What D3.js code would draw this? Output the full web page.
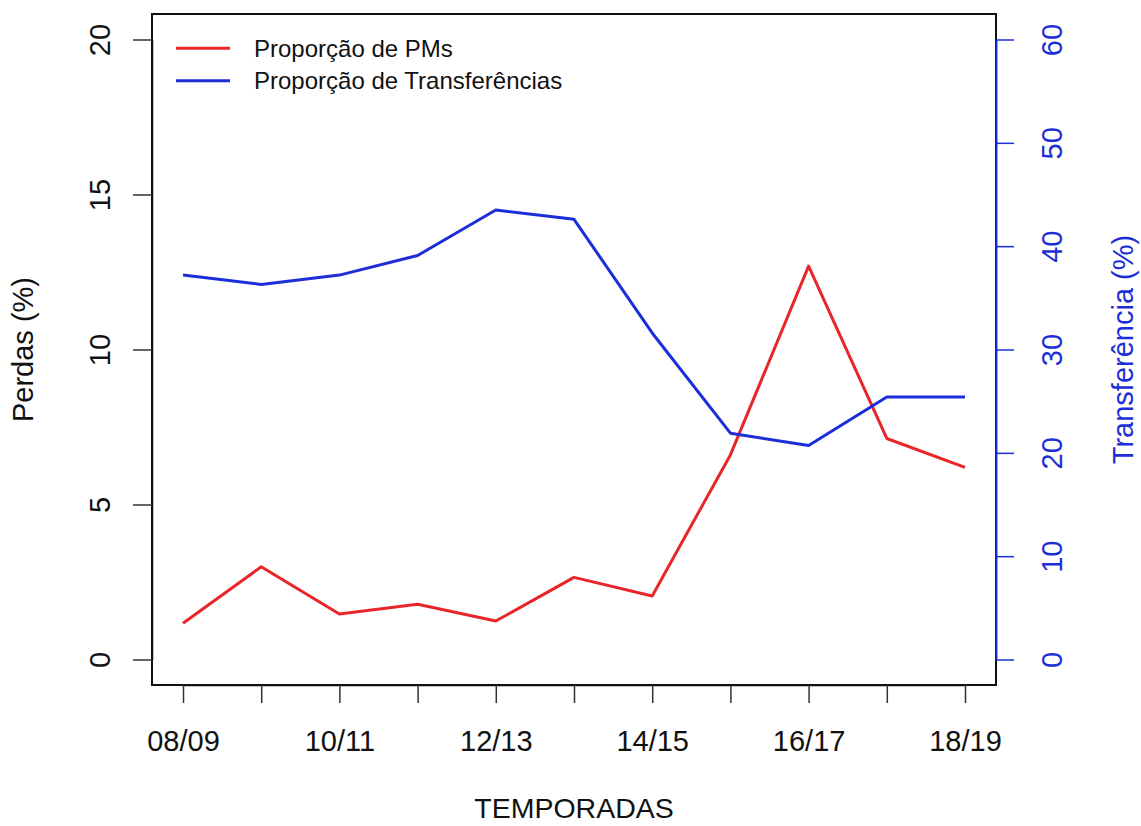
<!DOCTYPE html>
<html>
<head>
<meta charset="utf-8">
<script src="https://cdn.jsdelivr.net/npm/d3@7"></script>
<style>
  html, body { margin: 0; padding: 0; background: #ffffff; }
  svg text { font-family: "Liberation Sans", Arial, Helvetica, sans-serif; }
</style>
</head>
<body>
<svg id="chart" width="1141" height="826"></svg>
<script>
// ---- data ----
const seasons = ["08/09","09/10","10/11","11/12","12/13","13/14","14/15","15/16","16/17","17/18","18/19"];
const pmShare = [1.17, 2.99, 1.47, 1.78, 1.24, 2.65, 2.05, 6.6, 12.69, 7.13, 6.2];
const transferShare = [37.2, 36.3, 37.2, 39.1, 43.5, 42.6, 31.6, 21.9, 20.7, 25.4, 25.4];
const leftTicks = [0, 5, 10, 15, 20];
const rightTicks = [0, 10, 20, 30, 40, 50, 60];
const legendLabels = ["Proporção de PMs", "Proporção de Transferências"];

// ---- layout ----
const W = 1141, H = 826;
const box = { left: 152, right: 996, top: 14, bottom: 685 };
const RED = "#e8262a", BLUE = "#1c2ed8", INK = "#111111";

const svg = d3.select("#chart");

const x = d3.scalePoint().domain(seasons).range([183, 965]);
const yL = d3.scaleLinear().domain([0, 20]).range([659.5, 39.5]);
const yR = d3.scaleLinear().domain([0, 60]).range([659.5, 39.5]);

// plot box
svg.append("rect")
  .attr("x", box.left).attr("y", box.top)
  .attr("width", box.right - box.left).attr("height", box.bottom - box.top)
  .attr("fill", "none").attr("stroke", INK).attr("stroke-width", 2);

// x axis
const gx = svg.append("g").attr("transform", `translate(0,${box.bottom})`)
  .call(d3.axisBottom(x).tickSize(18).tickSizeOuter(0)
    .tickFormat((d, i) => i % 2 === 0 ? d : ""));
gx.select(".domain").attr("stroke", INK).attr("stroke-width", 1.5);
gx.selectAll(".tick line").attr("stroke", "#333").attr("stroke-width", 1.5);
gx.selectAll(".tick text")
  .attr("y", 66).attr("dy", 0)
  .attr("font-size", 29).attr("fill", INK);

// left axis
const gl = svg.append("g").attr("transform", `translate(${box.left},0)`)
  .call(d3.axisLeft(yL).tickValues(leftTicks).tickSize(19).tickSizeOuter(0));
gl.select(".domain").attr("stroke", INK).attr("stroke-width", 1.5);
gl.selectAll(".tick line").attr("stroke", "#333").attr("stroke-width", 1.5);
gl.selectAll(".tick text")
  .attr("transform", "rotate(-90)")
  .attr("x", 0).attr("y", -42).attr("dy", 0)
  .attr("text-anchor", "middle")
  .attr("font-size", 29).attr("fill", INK);

// right axis
const gr = svg.append("g").attr("transform", `translate(${box.right},0)`)
  .call(d3.axisRight(yR).tickValues(rightTicks).tickSize(18).tickSizeOuter(0));
gr.select(".domain").attr("stroke", BLUE).attr("stroke-width", 2);
gr.selectAll(".tick line").attr("stroke", BLUE).attr("stroke-width", 1.5);
gr.selectAll(".tick text")
  .attr("transform", "rotate(-90)")
  .attr("x", 0).attr("y", 66).attr("dy", 0)
  .attr("text-anchor", "middle")
  .attr("font-size", 29).attr("fill", BLUE);

// data lines
const lineL = d3.line().x((d, i) => x(seasons[i])).y(d => yL(d));
const lineR = d3.line().x((d, i) => x(seasons[i])).y(d => yR(d));

svg.append("path").datum(pmShare)
  .attr("d", lineL).attr("fill", "none")
  .attr("stroke", RED).attr("stroke-width", 3).attr("stroke-linejoin", "round");
svg.append("path").datum(transferShare)
  .attr("d", lineR).attr("fill", "none")
  .attr("stroke", BLUE).attr("stroke-width", 3).attr("stroke-linejoin", "round");

// axis titles
svg.append("text")
  .attr("x", (box.left + box.right) / 2).attr("y", 818)
  .attr("text-anchor", "middle").attr("font-size", 28.5).attr("fill", INK)
  .text("TEMPORADAS");
svg.append("text")
  .attr("transform", `translate(33,${(box.top + box.bottom) / 2}) rotate(-90)`)
  .attr("text-anchor", "middle").attr("font-size", 29).attr("fill", INK)
  .text("Perdas (%)");
svg.append("text")
  .attr("transform", `translate(1133,${(box.top + box.bottom) / 2}) rotate(-90)`)
  .attr("text-anchor", "middle").attr("font-size", 29).attr("fill", BLUE)
  .text("Transferência (%)");

// legend
const legColors = [RED, BLUE];
const leg = svg.append("g");
const legY = d3.scaleBand().domain(legendLabels).range([32, 97]);
legendLabels.forEach((lab, i) => {
  const cy = legY(lab) + legY.bandwidth() / 2;
  leg.append("line")
    .attr("x1", 176).attr("x2", 230).attr("y1", cy).attr("y2", cy)
    .attr("stroke", legColors[i]).attr("stroke-width", 3);
  leg.append("text")
    .attr("x", 254).attr("y", cy + 8.5)
    .attr("font-size", 24).attr("fill", INK)
    .text(lab);
});
</script>
</body>
</html>
